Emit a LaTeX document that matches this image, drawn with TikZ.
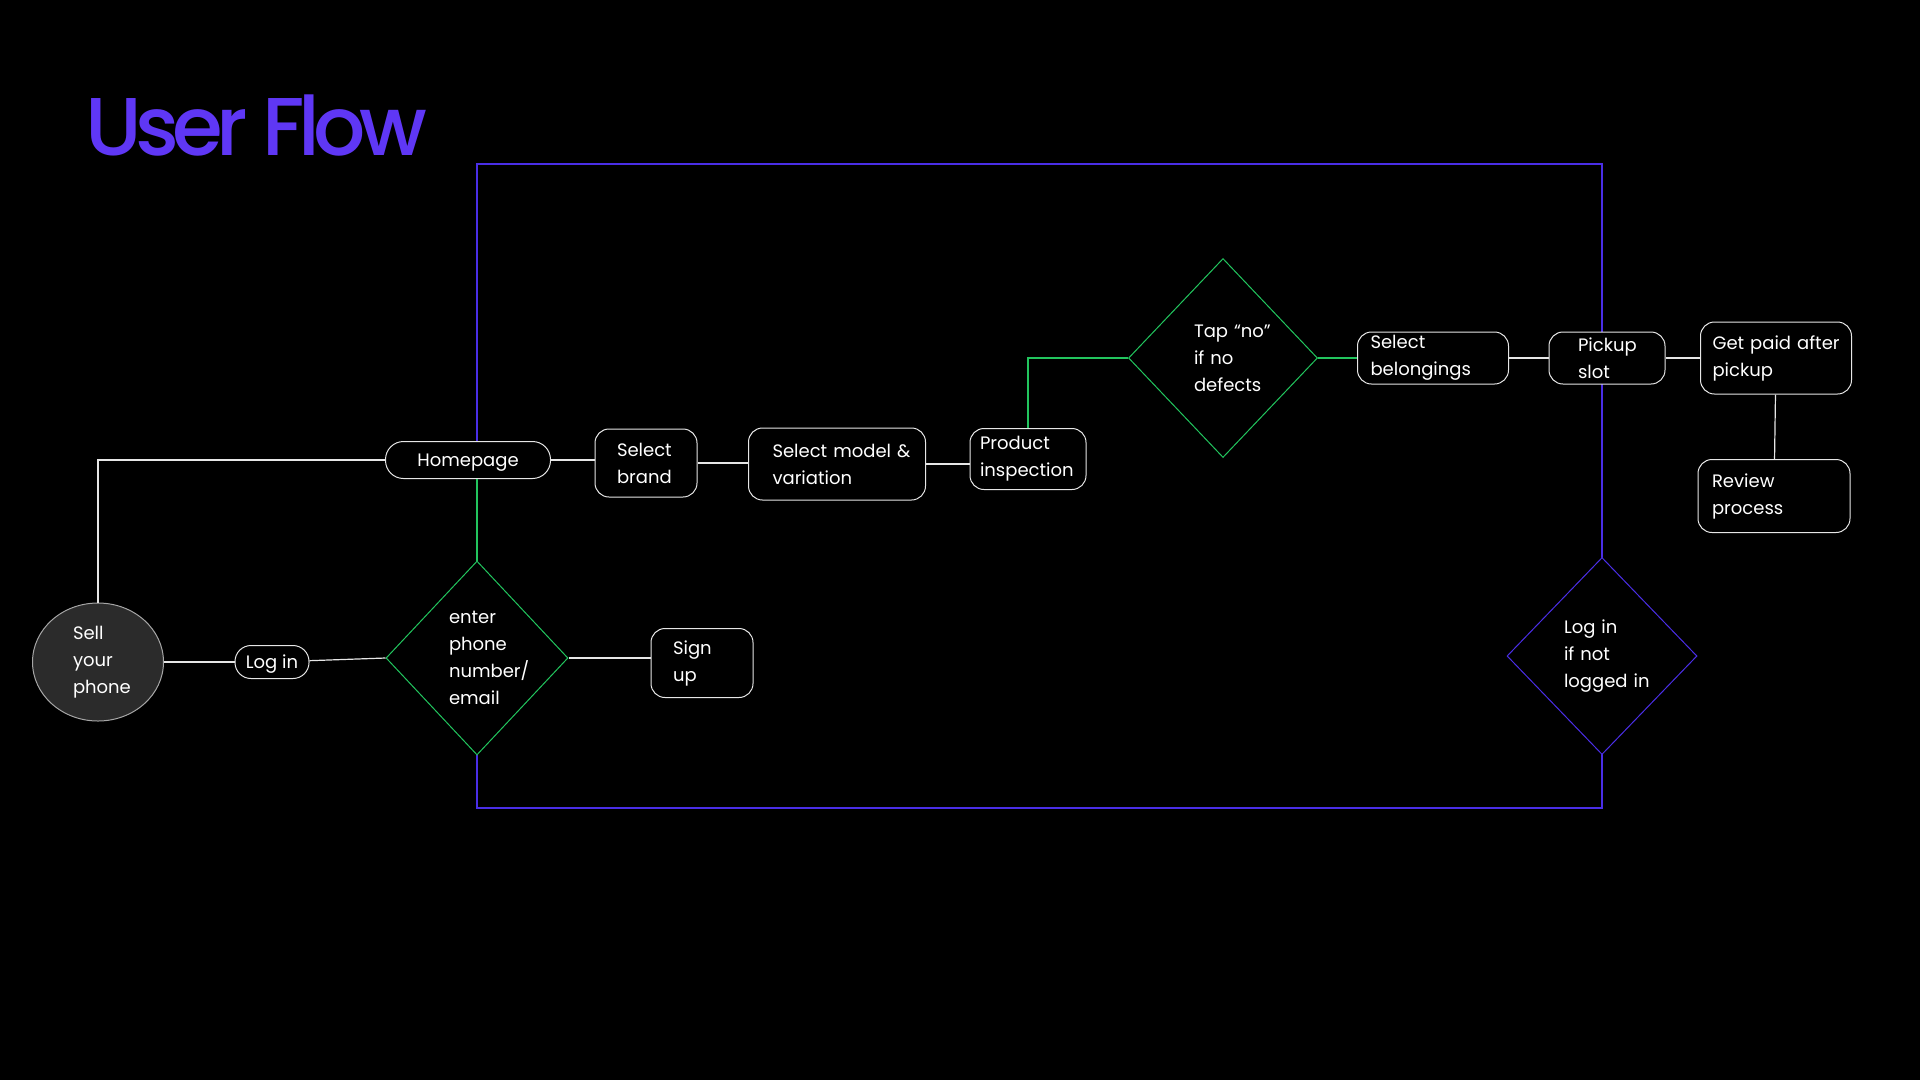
\documentclass[tikz,border=0pt]{standalone}
\usepackage{fontspec}
\setmainfont{Poppins}
\newfontfamily\titlefont{Poppins Medium}[LetterSpace=-8]
\usetikzlibrary{shapes.geometric,backgrounds}

\definecolor{titleblue}{HTML}{5F37F5}
\definecolor{loopblue}{HTML}{4A2EE6}
\definecolor{flowgreen}{HTML}{22C55E}
\definecolor{startgray}{HTML}{2B2B2B}
\definecolor{edgegray}{HTML}{E6E6E6}

\newcommand{\boxfont}{\fontsize{18}{27}\selectfont}

\tikzset{
  flowbox/.style={draw=edgegray, fill=black, text=white, line width=1pt,
    rounded corners=14pt, align=left, inner ysep=0pt, font=\boxfont},
  pillbox/.style={flowbox, align=center, inner xsep=0pt, text depth=0pt},
  choice/.style={diamond, draw=flowgreen, fill=black, text=white, line width=1pt,
    inner sep=0pt, align=left, font=\boxfont},
  link/.style={draw=edgegray, line width=1.2pt},
  greenlink/.style={draw=flowgreen, line width=1.2pt},
  bluelink/.style={draw=loopblue, line width=1.2pt}
}

\begin{document}
\begin{tikzpicture}[x=1pt, y=-1pt]
    % page size
    \useasboundingbox (0,0) rectangle (1920,1080);

    % title
    \node[anchor=base west, inner sep=0pt, text=titleblue,
      font=\titlefont\fontsize{82}{82}\selectfont] (title) at (85,155) {User Flow};

    % start
    \node[ellipse, draw=gray!70, fill=startgray, text=white, line width=1pt,
      minimum width=131pt, minimum height=118pt, inner sep=0pt,
      text width=50pt, align=left, font=\boxfont] (sell) at (98,662) {Sell\\your\\phone};

    % login branch
    \node[pillbox, rounded corners=16pt, minimum width=74pt, minimum height=33pt] (login) at (272,662) {Log~in};
    \node[choice, minimum width=182pt, minimum height=194pt, text width=56pt] (enter) at (477,658) {enter\\phone\\number/\\email};
    \node[flowbox, inner xsep=22pt, text width=58pt, minimum height=69pt] (signup) at (702,663) {Sign\\up};

    % main row
    \node[pillbox, rounded corners=18pt, minimum width=165pt, minimum height=37pt] (home) at (468,460) {Homepage};
    \node[flowbox, inner xsep=22pt, text width=58pt, minimum height=68pt] (brand) at (646,463) {Select\\brand};
    \node[flowbox, inner xsep=24pt, text width=129pt, minimum height=72pt] (model) at (837,464) {Select~model~\&\\variation};
    \node[flowbox, inner xsep=10pt, text width=96pt, minimum height=61pt] (insp) at (1028,459) {Product\\inspection};
    \node[choice, minimum width=189pt, minimum height=199pt, text width=58pt] (tap) at (1223,358) {Tap~“no”\\if~no\\defects};
    \node[flowbox, inner xsep=13pt, text width=125pt, minimum height=52pt] (belong) at (1433,358) {Select\\belongings};
    \node[flowbox, inner xsep=29pt, text width=58pt, minimum height=52pt] (pickup) at (1607,358) {Pickup\\slot};
    \node[flowbox, inner xsep=12pt, text width=127pt, minimum height=72pt] (paid) at (1776,358) {\mbox{Get paid after}\\pickup};
    \node[flowbox, inner xsep=14pt, text width=124pt, minimum height=73pt] (review) at (1774,496) {Review\\process};

    % login check
    \node[choice, draw=loopblue, minimum width=190pt, minimum height=197pt, text width=76pt] (check) at (1602,656) {Log~in\\if~not\\logged~in};

    % loop frame behind the nodes
    \coordinate (frametop) at (0,164);
    \coordinate (framebot) at (0,808);
    \begin{pgfonlayer}{background}
      \fill[black] (0,0) rectangle (1920,1080);
      \draw[bluelink] (enter.north |- frametop) rectangle (check.north |- framebot);
    \end{pgfonlayer}

    % connectors
    \draw[link] (sell.north) |- (home.west);
    \draw[link] (sell) -- (login);
    \draw[link] (login) -- (enter.west);
    \draw[link] (enter.east) -- (signup.west |- enter.east);
    \draw[greenlink] (home.south -| enter.north) -- (enter.north);
    \draw[link] (home.east) -- (brand.west |- home.east);
    \draw[link] (brand.east) -- (model.west |- brand.east);
    \draw[link] (model.east) -- (insp.west |- model.east);
    \draw[greenlink] (insp.north) |- (tap.west);
    \draw[greenlink] (tap.east) -- (belong.west |- tap.east);
    \draw[link] (belong) -- (pickup);
    \draw[link] (pickup) -- (paid);
    \draw[link] (paid) -- (review);
\end{tikzpicture}
\end{document}
